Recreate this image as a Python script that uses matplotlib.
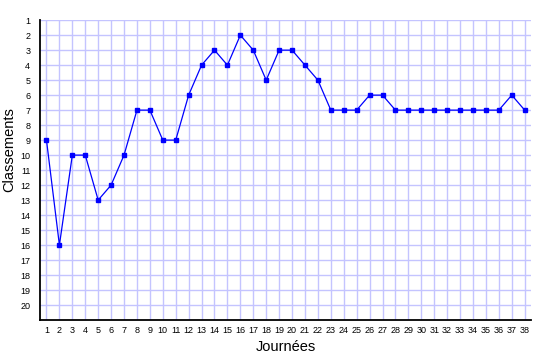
import matplotlib.pyplot as plt

plt.rcParams['font.family'] = ['Liberation Sans', 'DejaVu Sans']

# Classement par journée
journees = list(range(1, 39))
classements = [9, 16, 10, 10, 13, 12, 10, 7, 7, 9,
               9, 6, 4, 3, 4, 2, 3, 5, 3, 3,
               4, 5, 7, 7, 7, 6, 6, 7, 7, 7,
               7, 7, 7, 7, 7, 7, 6, 7]

fig = plt.figure(figsize=(5.35, 3.6), dpi=100)
ax = fig.add_axes([0.0748, 0.111, 0.918, 0.833])

ax.plot(journees, classements, color='#0000ff', linewidth=0.9,
        marker='s', markersize=2.3, zorder=3)

ax.set_xlim(0.5, 38.5)
ax.set_ylim(21, 1)
ax.set_xticks(journees)
ax.set_yticks(range(1, 21))
ax.tick_params(length=0, labelsize=6.5, pad=7)
ax.tick_params(axis='x', pad=4)
ax.grid(True, color='#c4c4ff', linewidth=1)
ax.set_axisbelow(True)

for s in ['top', 'right']:
    ax.spines[s].set_visible(False)
ax.spines['left'].set_linewidth(1.3)
ax.spines['bottom'].set_linewidth(1.3)

ax.set_xlabel('Journées', fontsize=10.5, labelpad=4)
ax.set_ylabel('Classements', fontsize=10.5)
ax.yaxis.set_label_coords(-0.048, 0.57)

fig.savefig('out.png', dpi=100)
